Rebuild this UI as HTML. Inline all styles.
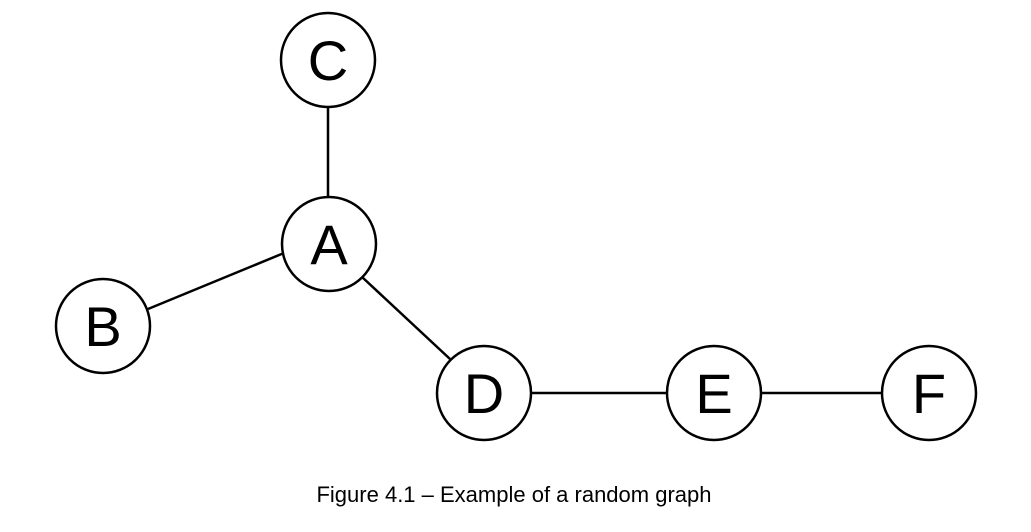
<!DOCTYPE html>
<html><head><style>
html,body{margin:0;padding:0;background:#fff;}
</style></head><body>
<svg width="1031" height="532" xmlns="http://www.w3.org/2000/svg" style="display:block">
<g stroke="#000" stroke-width="2.5" fill="none">
<line x1="328" y1="107" x2="328" y2="197"/>
<line x1="148" y1="309" x2="284" y2="253"/>
<line x1="362" y1="277" x2="450" y2="359"/>
<line x1="531" y1="393" x2="667" y2="393"/>
<line x1="761" y1="393" x2="882" y2="393"/>
<circle cx="328" cy="60" r="47" fill="#fff"/>
<circle cx="329" cy="244" r="47" fill="#fff"/>
<circle cx="103" cy="326" r="47" fill="#fff"/>
<circle cx="484" cy="393" r="47" fill="#fff"/>
<circle cx="714" cy="393" r="47" fill="#fff"/>
<circle cx="929" cy="393" r="47" fill="#fff"/>
</g>
<g font-family="Liberation Sans, sans-serif" font-size="56" text-anchor="middle" fill="#000">
<text x="328" y="80">C</text>
<text x="329" y="264">A</text>
<text x="103" y="346">B</text>
<text x="484" y="413">D</text>
<text x="714" y="413">E</text>
<text x="929" y="413">F</text>
</g>
<text x="514" y="502" font-family="Liberation Sans, sans-serif" font-size="22" text-anchor="middle" fill="#000">Figure 4.1 – Example of a random graph</text>
</svg>
</body></html>
